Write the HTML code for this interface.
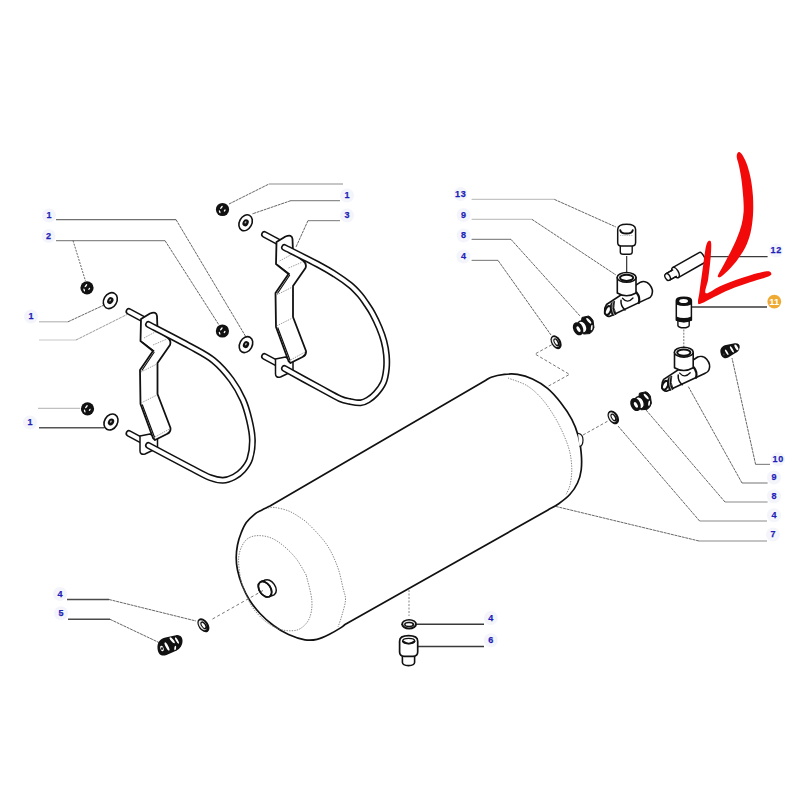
<!DOCTYPE html>
<html><head><meta charset="utf-8"><style>
html,body{margin:0;padding:0;background:#fff;}
svg{display:block;font-family:"Liberation Sans",sans-serif;}
</style></head><body>
<svg width="800" height="800" viewBox="0 0 800 800">
<rect width="800" height="800" fill="#fff"/>
<path d="M56.0,219.6 L176.0,219.6" fill="none" stroke="#707070" stroke-width="1.3"/>
<path d="M176.0,219.6 L246.0,337.0" fill="none" stroke="#4a4a4a" stroke-width="0.85" stroke-dasharray="3,0.7"/>
<path d="M56.0,240.6 L165.0,240.6" fill="none" stroke="#8a8a8a" stroke-width="1.2"/>
<path d="M165.0,240.6 L219.0,325.0" fill="none" stroke="#4a4a4a" stroke-width="0.85" stroke-dasharray="3,0.7"/>
<path d="M73,240.6 L85.5,281" fill="none" stroke="#555" stroke-width="0.9" stroke-dasharray="2,1.2"/>
<path d="M39.0,321.8 L68.0,321.8" fill="none" stroke="#b8b8b8" stroke-width="1.2"/>
<path d="M68.0,321.8 L103.0,305.5" fill="none" stroke="#4a4a4a" stroke-width="0.85" stroke-dasharray="3,0.7"/>
<path d="M39.0,340.0 L76.0,340.0" fill="none" stroke="#c8c8c8" stroke-width="1.2"/>
<path d="M76.0,340.0 L127.0,314.5" fill="none" stroke="#888" stroke-width="0.85" stroke-dasharray="3,0.7"/>
<path d="M38.0,408.4 L80.0,408.4" fill="none" stroke="#c0c0c0" stroke-width="1.2"/>
<path d="M39.0,427.8 L104.0,427.8" fill="none" stroke="#555" stroke-width="1.5"/>
<path d="M229.0,204.0 L269.0,184.0" fill="none" stroke="#4a4a4a" stroke-width="0.85" stroke-dasharray="3,0.7"/>
<path d="M269.0,184.0 L343.0,184.0" fill="none" stroke="#8e8e8e" stroke-width="1.2"/>
<path d="M340.0,200.6 L291.0,200.6" fill="none" stroke="#8e8e8e" stroke-width="1.2"/>
<path d="M291.0,200.6 L252.0,214.0" fill="none" stroke="#4a4a4a" stroke-width="0.85" stroke-dasharray="3,0.7"/>
<path d="M340.0,220.6 L308.0,220.6" fill="none" stroke="#8e8e8e" stroke-width="1.2"/>
<path d="M308.0,220.6 L296.0,247.0" fill="none" stroke="#4a4a4a" stroke-width="0.85" stroke-dasharray="3,0.7"/>
<path d="M471.6,199.4 L554.4,199.4" fill="none" stroke="#c4c4c4" stroke-width="1.2"/>
<path d="M554.4,199.4 L616.0,227.0" fill="none" stroke="#4a4a4a" stroke-width="0.85" stroke-dasharray="3,0.7"/>
<path d="M471.6,219.4 L532.0,219.4" fill="none" stroke="#c4c4c4" stroke-width="1.2"/>
<path d="M532.0,219.4 L616.0,275.0" fill="none" stroke="#4a4a4a" stroke-width="0.85" stroke-dasharray="3,0.7"/>
<path d="M471.6,239.4 L511.0,239.4" fill="none" stroke="#8a8a8a" stroke-width="1.2"/>
<path d="M511.0,239.4 L580.0,316.0" fill="none" stroke="#4a4a4a" stroke-width="0.85" stroke-dasharray="3,0.7"/>
<path d="M471.6,260.4 L498.0,260.4" fill="none" stroke="#8a8a8a" stroke-width="1.2"/>
<path d="M498.0,260.4 L551.0,335.0" fill="none" stroke="#4a4a4a" stroke-width="0.85" stroke-dasharray="3,0.7"/>
<path d="M702.0,256.6 L767.6,256.6" fill="none" stroke="#3a3a3a" stroke-width="1.4"/>
<path d="M691.5,307.0 L767.0,307.0" fill="none" stroke="#3a3a3a" stroke-width="1.4"/>
<path d="M770.0,464.4 L755.6,464.4" fill="none" stroke="#8a8a8a" stroke-width="1.2"/>
<path d="M755.6,464.4 L732.0,358.0" fill="none" stroke="#4a4a4a" stroke-width="0.85" stroke-dasharray="3,0.7"/>
<path d="M767.6,483.0 L742.0,483.0" fill="none" stroke="#8a8a8a" stroke-width="1.2"/>
<path d="M742.0,483.0 L688.0,386.0" fill="none" stroke="#4a4a4a" stroke-width="0.85" stroke-dasharray="3,0.7"/>
<path d="M767.6,502.0 L725.0,502.0" fill="none" stroke="#8a8a8a" stroke-width="1.2"/>
<path d="M725.0,502.0 L646.0,410.0" fill="none" stroke="#4a4a4a" stroke-width="0.85" stroke-dasharray="3,0.7"/>
<path d="M767.0,521.0 L699.6,521.0" fill="none" stroke="#8a8a8a" stroke-width="1.2"/>
<path d="M699.6,521.0 L618.0,426.0" fill="none" stroke="#4a4a4a" stroke-width="0.85" stroke-dasharray="3,0.7"/>
<path d="M767.0,541.0 L699.0,541.0" fill="none" stroke="#8a8a8a" stroke-width="1.2"/>
<path d="M699.0,541.0 L554.0,506.0" fill="none" stroke="#4a4a4a" stroke-width="0.85" stroke-dasharray="3,0.7"/>
<path d="M67.0,599.5 L109.0,599.5" fill="none" stroke="#4a4a4a" stroke-width="1.4"/>
<path d="M109.0,599.5 L196.0,621.0" fill="none" stroke="#4a4a4a" stroke-width="0.85" stroke-dasharray="3,0.7"/>
<path d="M68.0,619.3 L110.0,619.3" fill="none" stroke="#4a4a4a" stroke-width="1.4"/>
<path d="M110.0,619.3 L160.0,643.0" fill="none" stroke="#4a4a4a" stroke-width="0.85" stroke-dasharray="3,0.7"/>
<path d="M416.75,624.3 L484.0,624.3" fill="none" stroke="#3a3a3a" stroke-width="1.5"/>
<path d="M418.0,646.4 L484.0,646.4" fill="none" stroke="#3a3a3a" stroke-width="1.5"/>
<path d="M409,590 L409,616" fill="none" stroke="#777" stroke-width="0.9" stroke-dasharray="2,1.5"/>
<path d="M556,342.4 L535,354 L569.5,374.4 L548,386.3" fill="none" stroke="#666" stroke-width="0.9" stroke-dasharray="3,2"/>
<path d="M583,435 L608,421" fill="none" stroke="#666" stroke-width="0.9" stroke-dasharray="3,2"/>
<path d="M626.7,256.0 L626.7,272.5" fill="none" stroke="#222" stroke-width="1.1"/>
<path d="M683.8,329.5 V348" fill="none" stroke="#666" stroke-width="0.9" stroke-dasharray="2,1.2"/>
<path d="M270,506.1 L485,380.8 C487.1,379.6 488.0,378.3 491.2,377.2 C494.4,376.1 500.0,374.9 504.4,374.4 C508.8,373.9 512.8,373.6 517.5,374.4 C522.2,375.2 527.5,376.7 532.5,379.0 C537.5,381.3 542.8,384.5 547.5,388.4 C552.2,392.3 556.6,397.4 560.6,402.5 C564.6,407.6 568.8,413.7 571.8,419.3 C574.8,424.9 576.8,430.6 578.4,436.2 C580.0,441.8 580.7,447.4 581.2,453.0 C581.7,458.6 581.8,465.0 581.2,470.0 C580.6,475.0 579.4,478.9 577.5,483.0 C575.6,487.1 573.1,490.9 570.0,494.3 C566.9,497.8 562.4,501.1 558.7,503.7 C555.0,506.3 551.6,507.9 548.0,510.0 L345,624.5 C343.6,625.4 343.7,625.9 341.0,627.6 C338.3,629.3 333.0,632.5 329.0,634.5 C325.0,636.5 321.0,638.4 317.0,639.3 C313.0,640.2 309.8,640.5 305.0,639.8 C300.2,639.0 293.8,636.9 288.5,634.5 C283.2,632.1 278.2,629.0 273.5,625.5 C268.8,622.0 264.0,617.8 260.0,613.5 C256.0,609.2 252.5,604.8 249.5,600.0 C246.5,595.2 244.0,590.0 242.0,585.0 C240.0,580.0 238.5,574.6 237.5,570.0 C236.5,565.4 236.2,561.7 236.2,557.5 C236.2,553.3 236.7,549.2 237.5,545.0 C238.3,540.8 239.8,536.2 241.3,532.5 C242.8,528.8 244.1,525.5 246.3,522.5 C248.5,519.5 251.9,516.4 254.5,514.3 C257.1,512.2 259.4,511.4 262.0,510.0 C264.6,508.6 267.4,507.5 270.0,506.1 Z" fill="#fff" stroke="#111" stroke-width="1.7" stroke-linejoin="round"/>
<path d="M268.0,508.0 C269.2,507.9 271.6,507.0 275.0,507.5 C278.4,508.0 284.5,509.3 288.7,511.0 C292.9,512.7 296.4,515.1 300.0,517.5 C303.6,519.9 305.5,520.9 310.0,525.5 C314.5,530.1 322.4,538.1 327.0,545.0 C331.6,551.9 334.9,559.8 337.6,567.0 C340.3,574.2 341.7,582.5 343.0,588.0 C344.3,593.5 345.7,595.5 345.5,600.0 C345.3,604.5 343.2,610.5 342.0,615.0 C340.8,619.5 338.7,625.0 338.0,627.0" fill="none" stroke="#7a7a7a" stroke-width="0.9" stroke-dasharray="1.4,1.2"/>
<path d="M306.2,575.0 C304.5,572.3 299.9,563.5 296.2,558.7 C292.4,553.9 287.9,549.5 283.7,546.0 C279.5,542.5 275.4,539.7 271.2,538.0 C267.0,536.3 262.4,535.6 258.7,535.6 C254.9,535.6 251.4,536.4 248.7,538.0 C246.0,539.6 244.2,541.8 242.5,545.0 C240.8,548.2 239.1,552.5 238.7,557.5 C238.3,562.5 239.1,569.6 240.0,575.0 C240.9,580.4 241.9,584.6 244.0,590.0 C246.1,595.4 249.1,602.3 252.6,607.5 C256.1,612.7 260.8,617.5 265.0,621.0 C269.2,624.5 273.8,626.9 278.0,628.5 C282.2,630.1 286.2,630.8 290.0,630.8 C293.8,630.8 297.2,630.6 300.5,628.5 C303.8,626.4 307.6,622.8 309.5,618.0 C311.4,613.2 312.4,607.2 311.8,600.0 C311.2,592.8 307.1,579.2 306.2,575.0" fill="none" stroke="#7a7a7a" stroke-width="0.9" stroke-dasharray="1.4,1.2"/>
<path d="M508.0,378.0 C511.1,379.3 521.3,382.2 526.9,385.6 C532.5,389.1 537.1,393.4 541.8,398.7 C546.5,404.0 551.2,411.2 555.0,417.5 C558.8,423.8 561.8,430.3 564.3,436.2 C566.8,442.1 568.8,447.4 570.0,453.0 C571.2,458.6 571.8,464.7 571.8,470.0 C571.8,475.3 570.9,480.9 570.0,485.0 C569.1,489.1 566.8,492.8 566.2,494.3" fill="none" stroke="#7a7a7a" stroke-width="0.9" stroke-dasharray="1.4,1.2"/>
<ellipse cx="269.6" cy="587.5" rx="5.6" ry="8.6" transform="rotate(-34 269.6 587.5)" fill="#fff" stroke="#111" stroke-width="1.5"/>
<path d="M261,581.7 L265.6,580 L273.6,595 L269,596.7 Z" fill="#fff" stroke="none"/>
<path d="M261,581.7 L265.6,580 M273.6,595 L269,596.7" fill="none" stroke="#111" stroke-width="1.5"/>
<ellipse cx="265" cy="589.2" rx="5.6" ry="8.6" transform="rotate(-34 265 589.2)" fill="#fff" stroke="#111" stroke-width="1.6"/>
<path d="M578,433.4 Q583,434 583,440 Q583,446 579.5,446.5" fill="#fff" stroke="#111" stroke-width="1.2"/>
<path d="M212.5,619 L263,590.5" fill="none" stroke="#666" stroke-width="0.9" stroke-dasharray="3,2.5"/>
<ellipse cx="265" cy="589.2" rx="5.6" ry="8.6" transform="rotate(-34 265 589.2)" fill="none" stroke="#111" stroke-width="1.6"/>
<g transform="translate(135.5 -77)">
<path d="M129,311.5 L143,319" fill="none" stroke="#111" stroke-width="7" stroke-linecap="round" stroke-linejoin="round"/>
<path d="M129,311.5 L143,319" fill="none" stroke="#fff" stroke-width="3.8" stroke-linecap="round" stroke-linejoin="round"/>
<path d="M129,433.5 L143,441" fill="none" stroke="#111" stroke-width="7" stroke-linecap="round" stroke-linejoin="round"/>
<path d="M129,433.5 L143,441" fill="none" stroke="#fff" stroke-width="3.8" stroke-linecap="round" stroke-linejoin="round"/>
<path d="M140,436 L140,451 Q140,455 145,454 L157.5,448 L157.5,438 L150,434 Z" fill="#fff" stroke="#111" stroke-width="1.5" stroke-linejoin="round"/>
<path d="M141,319 L150,313.5 Q156.5,311 157,316 L157.5,330 L168,338 Q171.5,341 170,345 L157.5,363 L157.5,394 L170.5,428 Q171,432 167,434 L155,440 L153,438 L140.5,404 L140,370 L153,351 L140.5,341 Z" fill="#fff" stroke="#111" stroke-width="1.8" stroke-linejoin="round"/>
<path d="M142.3,342.3 L154.3,351.3 M141.9,370.5 L154.3,352 M142.2,404.5 L154.6,437.5" fill="none" stroke="#111" stroke-width="1.2"/>
<path d="M144,338 L157,331 M153,345 L167,339 M141,372 L157,364 M141,403 L157,395 M155,437 L169.5,429" fill="none" stroke="#888" stroke-width="0.8" stroke-dasharray="1.5,1"/>
</g>
<path d="M284.5,247.5 C290.4,250.5 311.6,261.1 320.0,265.6 C328.4,270.1 330.0,271.2 335.0,274.4 C340.0,277.6 345.8,281.6 350.0,285.0 C354.2,288.4 357.2,291.8 360.0,295.0 C362.8,298.2 364.4,300.9 366.5,304.0 C368.6,307.1 370.6,309.9 372.7,313.8 C374.8,317.7 377.3,322.9 379.2,327.5 C381.1,332.1 382.8,336.7 384.0,341.3 C385.2,345.9 386.0,350.4 386.4,355.0 C386.8,359.6 386.9,364.2 386.4,368.8 C385.9,373.4 385.2,378.5 383.4,382.6 C381.6,386.7 378.4,390.7 375.8,393.6 C373.2,396.5 370.5,398.5 368.0,400.0 C365.5,401.5 363.6,402.6 360.6,402.8 C357.6,403.1 353.4,402.2 350.0,401.5 C346.6,400.8 345.0,400.9 340.0,398.7 C335.0,396.4 329.2,393.0 320.0,388.0 C310.8,383.0 290.4,371.8 284.5,368.5" fill="none" stroke="#111" stroke-width="7" stroke-linecap="round" stroke-linejoin="round"/>
<path d="M284.5,247.5 C290.4,250.5 311.6,261.1 320.0,265.6 C328.4,270.1 330.0,271.2 335.0,274.4 C340.0,277.6 345.8,281.6 350.0,285.0 C354.2,288.4 357.2,291.8 360.0,295.0 C362.8,298.2 364.4,300.9 366.5,304.0 C368.6,307.1 370.6,309.9 372.7,313.8 C374.8,317.7 377.3,322.9 379.2,327.5 C381.1,332.1 382.8,336.7 384.0,341.3 C385.2,345.9 386.0,350.4 386.4,355.0 C386.8,359.6 386.9,364.2 386.4,368.8 C385.9,373.4 385.2,378.5 383.4,382.6 C381.6,386.7 378.4,390.7 375.8,393.6 C373.2,396.5 370.5,398.5 368.0,400.0 C365.5,401.5 363.6,402.6 360.6,402.8 C357.6,403.1 353.4,402.2 350.0,401.5 C346.6,400.8 345.0,400.9 340.0,398.7 C335.0,396.4 329.2,393.0 320.0,388.0 C310.8,383.0 290.4,371.8 284.5,368.5" fill="none" stroke="#fff" stroke-width="3.8" stroke-linecap="round" stroke-linejoin="round"/>
<g transform="translate(0 0)">
<path d="M129,311.5 L143,319" fill="none" stroke="#111" stroke-width="7" stroke-linecap="round" stroke-linejoin="round"/>
<path d="M129,311.5 L143,319" fill="none" stroke="#fff" stroke-width="3.8" stroke-linecap="round" stroke-linejoin="round"/>
<path d="M129,433.5 L143,441" fill="none" stroke="#111" stroke-width="7" stroke-linecap="round" stroke-linejoin="round"/>
<path d="M129,433.5 L143,441" fill="none" stroke="#fff" stroke-width="3.8" stroke-linecap="round" stroke-linejoin="round"/>
<path d="M140,436 L140,451 Q140,455 145,454 L157.5,448 L157.5,438 L150,434 Z" fill="#fff" stroke="#111" stroke-width="1.5" stroke-linejoin="round"/>
<path d="M141,319 L150,313.5 Q156.5,311 157,316 L157.5,330 L168,338 Q171.5,341 170,345 L157.5,363 L157.5,394 L170.5,428 Q171,432 167,434 L155,440 L153,438 L140.5,404 L140,370 L153,351 L140.5,341 Z" fill="#fff" stroke="#111" stroke-width="1.8" stroke-linejoin="round"/>
<path d="M142.3,342.3 L154.3,351.3 M141.9,370.5 L154.3,352 M142.2,404.5 L154.6,437.5" fill="none" stroke="#111" stroke-width="1.2"/>
<path d="M144,338 L157,331 M153,345 L167,339 M141,372 L157,364 M141,403 L157,395 M155,437 L169.5,429" fill="none" stroke="#888" stroke-width="0.8" stroke-dasharray="1.5,1"/>
<path d="M148.5,324.5 C155.4,328.1 179.2,340.3 190.0,346.3 C200.8,352.3 206.6,354.9 213.5,360.5 C220.4,366.1 226.6,373.4 231.5,380.0 C236.4,386.6 240.0,393.3 243.0,400.0 C246.0,406.7 247.7,413.3 249.3,420.0 C250.9,426.7 252.3,433.5 252.4,440.0 C252.5,446.5 251.4,454.0 249.8,459.0 C248.2,464.0 245.6,467.0 243.0,470.0 C240.4,473.0 237.3,475.3 234.0,477.0 C230.7,478.7 227.0,480.2 223.0,480.3 C219.0,480.4 215.5,479.7 210.0,477.6 C204.5,475.5 200.2,472.9 190.0,467.5 C179.8,462.1 155.4,449.2 148.5,445.5" fill="none" stroke="#111" stroke-width="7" stroke-linecap="round" stroke-linejoin="round"/>
<path d="M148.5,324.5 C155.4,328.1 179.2,340.3 190.0,346.3 C200.8,352.3 206.6,354.9 213.5,360.5 C220.4,366.1 226.6,373.4 231.5,380.0 C236.4,386.6 240.0,393.3 243.0,400.0 C246.0,406.7 247.7,413.3 249.3,420.0 C250.9,426.7 252.3,433.5 252.4,440.0 C252.5,446.5 251.4,454.0 249.8,459.0 C248.2,464.0 245.6,467.0 243.0,470.0 C240.4,473.0 237.3,475.3 234.0,477.0 C230.7,478.7 227.0,480.2 223.0,480.3 C219.0,480.4 215.5,479.7 210.0,477.6 C204.5,475.5 200.2,472.9 190.0,467.5 C179.8,462.1 155.4,449.2 148.5,445.5" fill="none" stroke="#fff" stroke-width="3.8" stroke-linecap="round" stroke-linejoin="round"/>
</g>
<circle cx="222.5" cy="209.5" r="6.6" fill="#111"/>
<ellipse cx="221.4" cy="207.4" rx="0.75" ry="1.9" fill="#fff" transform="rotate(40 221.4 207.4)"/>
<ellipse cx="219.7" cy="211.7" rx="0.7" ry="1.6" fill="#fff" transform="rotate(-20 219.7 211.7)"/>
<ellipse cx="224.7" cy="210.5" rx="0.7" ry="1.3" fill="#fff" transform="rotate(35 224.7 210.5)"/>
<g transform="translate(245.6 222.8) rotate(28)"><ellipse rx="6.2" ry="8.4" fill="#fff" stroke="#111" stroke-width="1.6"/><ellipse rx="2.94" ry="3.6399999999999997" fill="#111"/><ellipse cx="-0.3" cy="-0.3" rx="0.84" ry="1.26" fill="#aaa"/></g>
<circle cx="222.4" cy="331" r="6.6" fill="#111"/>
<ellipse cx="221.3" cy="328.9" rx="0.75" ry="1.9" fill="#fff" transform="rotate(40 221.3 328.9)"/>
<ellipse cx="219.6" cy="333.2" rx="0.7" ry="1.6" fill="#fff" transform="rotate(-20 219.6 333.2)"/>
<ellipse cx="224.6" cy="332" rx="0.7" ry="1.3" fill="#fff" transform="rotate(35 224.6 332)"/>
<g transform="translate(246 344.6) rotate(28)"><ellipse rx="6.2" ry="8.4" fill="#fff" stroke="#111" stroke-width="1.6"/><ellipse rx="2.94" ry="3.6399999999999997" fill="#111"/><ellipse cx="-0.3" cy="-0.3" rx="0.84" ry="1.26" fill="#aaa"/></g>
<circle cx="87" cy="287.8" r="6.6" fill="#111"/>
<ellipse cx="85.9" cy="285.7" rx="0.75" ry="1.9" fill="#fff" transform="rotate(40 85.9 285.7)"/>
<ellipse cx="84.2" cy="290.0" rx="0.7" ry="1.6" fill="#fff" transform="rotate(-20 84.2 290.0)"/>
<ellipse cx="89.2" cy="288.8" rx="0.7" ry="1.3" fill="#fff" transform="rotate(35 89.2 288.8)"/>
<g transform="translate(110.3 300.6) rotate(30)"><ellipse rx="6.5" ry="8.4" fill="#fff" stroke="#111" stroke-width="1.6"/><ellipse rx="2.94" ry="3.6399999999999997" fill="#111"/><ellipse cx="-0.3" cy="-0.3" rx="0.84" ry="1.26" fill="#aaa"/></g>
<circle cx="87.5" cy="408.8" r="6.6" fill="#111"/>
<ellipse cx="86.4" cy="406.7" rx="0.75" ry="1.9" fill="#fff" transform="rotate(40 86.4 406.7)"/>
<ellipse cx="84.7" cy="411.0" rx="0.7" ry="1.6" fill="#fff" transform="rotate(-20 84.7 411.0)"/>
<ellipse cx="89.7" cy="409.8" rx="0.7" ry="1.3" fill="#fff" transform="rotate(35 89.7 409.8)"/>
<g transform="translate(111 422) rotate(30)"><ellipse rx="6.5" ry="8.4" fill="#fff" stroke="#111" stroke-width="1.6"/><ellipse rx="2.94" ry="3.6399999999999997" fill="#111"/><ellipse cx="-0.3" cy="-0.3" rx="0.84" ry="1.26" fill="#aaa"/></g>
<g transform="translate(556.1 342.2) rotate(-30)"><ellipse rx="4.8" ry="7.5" fill="#111"/><ellipse cx="-0.38" cy="-0.45" rx="3.17" ry="5.40" fill="#e8e8e8"/><ellipse cx="0.24" cy="0.30" rx="2.40" ry="4.35" fill="#111"/><ellipse cx="0" cy="0" rx="1.15" ry="2.85" fill="#fff"/></g>
<g transform="translate(613.3 417.4) rotate(-32)"><ellipse rx="5" ry="7.5" fill="#111"/><ellipse cx="-0.40" cy="-0.45" rx="3.30" ry="5.40" fill="#e8e8e8"/><ellipse cx="0.25" cy="0.30" rx="2.50" ry="4.35" fill="#111"/><ellipse cx="0" cy="0" rx="1.20" ry="2.85" fill="#fff"/></g>
<g transform="translate(203.4 625.3) rotate(-35)"><ellipse rx="5" ry="7.8" fill="#111"/><ellipse cx="-0.40" cy="-0.47" rx="3.30" ry="5.62" fill="#e8e8e8"/><ellipse cx="0.25" cy="0.31" rx="2.50" ry="4.52" fill="#111"/><ellipse cx="0" cy="0" rx="1.20" ry="2.96" fill="#fff"/></g>
<ellipse cx="409.1" cy="624.3" rx="7.9" ry="5.2" fill="#111"/>
<ellipse cx="409.1" cy="624" rx="6" ry="3.4" fill="#e8e8e8"/>
<ellipse cx="409.1" cy="624.4" rx="5" ry="2.6" fill="#111"/>
<ellipse cx="409" cy="624.5" rx="3.4" ry="1.2" fill="#fff"/>
<path d="M620.3,244 L620.3,252 Q620.3,254.3 623,254.3 L629.5,254.3 Q632.2,254.3 632.2,252 L632.2,244 Z" fill="#fff" stroke="#111" stroke-width="1.4" stroke-linejoin="round" stroke-linecap="round" />
<path d="M617.7,229.5 Q617.9,224.3 626.6,224.3 Q635.4,224.3 635.6,229.5 L635.6,242.5 Q635.6,246 632,246 L621.2,246 Q617.7,246 617.7,242.5 Z" fill="#fff" stroke="#111" stroke-width="1.5" stroke-linejoin="round" stroke-linecap="round" />
<path d="M620.3,230.3 C621,234.6 632,234.6 632.7,230.3" fill="none" stroke="#111" stroke-width="2.0" stroke-linejoin="round" stroke-linecap="round" />
<path d="M620,235.5 L633,235.5" fill="none" stroke="#999" stroke-width="0.7" stroke-dasharray="1,0.8"/>
<g transform="translate(0 0)">
<path d="M606.5,304.5 L640.5,282.2 C643,281.2 647,281.5 649.5,284.5 C652,287.5 653,292 651.8,295 C651,297 649.5,298 648,298.4 L610,316.2 C607,317 605,314.5 604.7,312 C604.5,309 605,306.5 606.5,304.5 Z" fill="#fff" stroke="#111" stroke-width="1.6" stroke-linejoin="round" stroke-linecap="round" />
<ellipse cx="608" cy="310.5" rx="2.6" ry="4.6" transform="rotate(25 608 310.5)" fill="#fff" stroke="#111" stroke-width="2"/>
<path d="M611.3,302.9 Q608.6,309 612.6,315.6 L616.2,314.2 Q612.4,308 614.6,301.2 Z" fill="#111" stroke="#111" stroke-width="0.8" stroke-linejoin="round"/>
<path d="M612.9,302.3 Q610.7,308.6 614.3,315" fill="none" stroke="#ddd" stroke-width="0.7" stroke-linejoin="round" stroke-linecap="round" />
<path d="M621,300.3 Q620.5,306 625,310" fill="none" stroke="#111" stroke-width="1.5" stroke-linejoin="round" stroke-linecap="round" />
<path d="M636.5,292.5 Q640.5,297.5 638.8,303" fill="none" stroke="#111" stroke-width="2.2" stroke-linejoin="round" stroke-linecap="round" />
<path d="M617.3,277.4 L617.3,293 Q626.5,298.5 636,293 L636,277.4 Z" fill="#fff" stroke="#111" stroke-width="1.6" stroke-linejoin="round" stroke-linecap="round" />
<path d="M626.6,277.4 m-9.4,0 a9.4,4.9 0 1,0 18.8,0 a9.4,4.9 0 1,0 -18.8,0" fill="#fff" stroke="#111" stroke-width="1.6" stroke-linejoin="round" stroke-linecap="round" />
<path d="M626.6,277.8 m-6.6,0 a6.6,3.1 0 1,0 13.2,0 a6.6,3.1 0 1,0 -13.2,0" fill="#fff" stroke="#111" stroke-width="2.0" stroke-linejoin="round" stroke-linecap="round" />
<path d="M622.5,298.3 Q627.5,304 633,298" fill="none" stroke="#111" stroke-width="1.3" stroke-linejoin="round" stroke-linecap="round" />
</g>
<g transform="translate(57.2 74.8)">
<path d="M606.5,304.5 L640.5,282.2 C643,281.2 647,281.5 649.5,284.5 C652,287.5 653,292 651.8,295 C651,297 649.5,298 648,298.4 L610,316.2 C607,317 605,314.5 604.7,312 C604.5,309 605,306.5 606.5,304.5 Z" fill="#fff" stroke="#111" stroke-width="1.6" stroke-linejoin="round" stroke-linecap="round" />
<ellipse cx="608" cy="310.5" rx="2.6" ry="4.6" transform="rotate(25 608 310.5)" fill="#fff" stroke="#111" stroke-width="2"/>
<path d="M611.3,302.9 Q608.6,309 612.6,315.6 L616.2,314.2 Q612.4,308 614.6,301.2 Z" fill="#111" stroke="#111" stroke-width="0.8" stroke-linejoin="round"/>
<path d="M612.9,302.3 Q610.7,308.6 614.3,315" fill="none" stroke="#ddd" stroke-width="0.7" stroke-linejoin="round" stroke-linecap="round" />
<path d="M621,300.3 Q620.5,306 625,310" fill="none" stroke="#111" stroke-width="1.5" stroke-linejoin="round" stroke-linecap="round" />
<path d="M636.5,292.5 Q640.5,297.5 638.8,303" fill="none" stroke="#111" stroke-width="2.2" stroke-linejoin="round" stroke-linecap="round" />
<path d="M617.3,277.4 L617.3,293 Q626.5,298.5 636,293 L636,277.4 Z" fill="#fff" stroke="#111" stroke-width="1.6" stroke-linejoin="round" stroke-linecap="round" />
<path d="M626.6,277.4 m-9.4,0 a9.4,4.9 0 1,0 18.8,0 a9.4,4.9 0 1,0 -18.8,0" fill="#fff" stroke="#111" stroke-width="1.6" stroke-linejoin="round" stroke-linecap="round" />
<path d="M626.6,277.8 m-6.6,0 a6.6,3.1 0 1,0 13.2,0 a6.6,3.1 0 1,0 -13.2,0" fill="#fff" stroke="#111" stroke-width="2.0" stroke-linejoin="round" stroke-linecap="round" />
<path d="M622.5,298.3 Q627.5,304 633,298" fill="none" stroke="#111" stroke-width="1.3" stroke-linejoin="round" stroke-linecap="round" />
</g>
<path d="M677.9,320 L677.9,325.5 Q678.5,327.8 683.5,327.8 Q688.6,327.8 689.2,325.5 L689.2,320 Z" fill="#fff" stroke="#111" stroke-width="1.4" stroke-linejoin="round" stroke-linecap="round" />
<path d="M676.3,300.5 Q676.3,297.2 683.8,297.2 Q691.4,297.2 691.4,300.5 L691.4,320 Q683.8,323.5 676.3,320 Z" fill="#fff" stroke="#111" stroke-width="1.5" stroke-linejoin="round" stroke-linecap="round" />
<path d="M676.3,300.5 Q676.3,297.2 683.8,297.2 Q691.4,297.2 691.4,300.5 L691.4,304.5 Q683.8,307.5 676.3,304.5 Z" fill="#111"/>
<ellipse cx="683.6" cy="301" rx="4.4" ry="2" fill="#fff"/>
<path d="M676.3,316.5 Q683.8,319.5 691.4,316.5 L691.4,320.5 Q683.8,324 676.3,320.5 Z" fill="#111"/>
<g transform="translate(667.6 277) rotate(-29.5)">
<path d="M9,-5.7 L40,-5.7 Q41.8,-5.7 41.8,0 Q41.8,5.7 40,5.7 L9,5.7 Z" fill="#fff" stroke="#111" stroke-width="1.5" stroke-linejoin="round" stroke-linecap="round" />
<path d="M0,-3.7 L9,-3.7 L9,3.7 L0,3.7 Z" fill="#fff" stroke="#111" stroke-width="1.4" stroke-linejoin="round" stroke-linecap="round" />
<ellipse cx="9" cy="0" rx="3" ry="5.7" fill="#fff" stroke="#111" stroke-width="1.5"/>
<rect x="2" y="-3" width="7" height="6" fill="#fff"/>
<path d="M0,-3.7 L8.5,-3.7 M0,3.7 L8.5,3.7" stroke="#111" stroke-width="1.4"/>
<ellipse cx="0" cy="0" rx="2.4" ry="3.7" fill="#fff" stroke="#111" stroke-width="1.4"/>
</g>
<path d="M720.4,352 C720,347.8 722.8,345.6 726,344.9 L733.5,343.6 C737.3,342.6 740,344.3 739.7,347.3 C739.4,350.2 737.8,352.3 735,353.3 L728.2,357.6 C724.2,359.6 720.9,357 720.4,352 Z" fill="#111"/>
<ellipse cx="726.7" cy="352.3" rx="0.9" ry="3.1" transform="rotate(-32 726.7 352.3)" fill="#fff"/>
<ellipse cx="731.9" cy="349.4" rx="1" ry="3.6" transform="rotate(-30 731.9 349.4)" fill="#fff"/>
<ellipse cx="736.4" cy="347.3" rx="1.3" ry="3.2" transform="rotate(-30 736.4 347.3)" fill="#fff"/>
<circle cx="723.8" cy="354.6" r="1" fill="#444"/>
<g transform="translate(583.6 325.75)">
<path d="M-1.6,-8.3 L4.9,-9.7 Q7.5,-9 9.4,-5.3 L10.4,1.8 Q9.5,5.5 6.4,7.8 L-0.1,8.3 L-3.1,2.3 Z" fill="#111" stroke="#111" stroke-width="1" stroke-linejoin="round"/>
<ellipse cx="5.2" cy="-4.9" rx="1.2" ry="3.6" transform="rotate(-40 5.2 -4.9)" fill="#fff"/>
<ellipse cx="8.1" cy="1.8" rx="0.9" ry="2.8" transform="rotate(8 8.1 1.8)" fill="#fff"/>
<ellipse cx="-1.4" cy="1.2" rx="4.3" ry="6.2" transform="rotate(-25 -1.4 1.2)" fill="#fff" stroke="#111" stroke-width="1.3"/>
<ellipse cx="-5.5" cy="3" rx="4.9" ry="6.9" transform="rotate(-25 -5.5 3)" fill="#111"/>
<ellipse cx="-5.1" cy="3.4" rx="1.5" ry="3.1" transform="rotate(-30 -5.1 3.4)" fill="#fff"/>
</g>
<g transform="translate(641 401.5)">
<path d="M-1.6,-8.3 L4.9,-9.7 Q7.5,-9 9.4,-5.3 L10.4,1.8 Q9.5,5.5 6.4,7.8 L-0.1,8.3 L-3.1,2.3 Z" fill="#111" stroke="#111" stroke-width="1" stroke-linejoin="round"/>
<ellipse cx="5.2" cy="-4.9" rx="1.2" ry="3.6" transform="rotate(-40 5.2 -4.9)" fill="#fff"/>
<ellipse cx="8.1" cy="1.8" rx="0.9" ry="2.8" transform="rotate(8 8.1 1.8)" fill="#fff"/>
<ellipse cx="-1.4" cy="1.2" rx="4.3" ry="6.2" transform="rotate(-25 -1.4 1.2)" fill="#fff" stroke="#111" stroke-width="1.3"/>
<ellipse cx="-5.5" cy="3" rx="4.9" ry="6.9" transform="rotate(-25 -5.5 3)" fill="#111"/>
<ellipse cx="-5.1" cy="3.4" rx="1.5" ry="3.1" transform="rotate(-30 -5.1 3.4)" fill="#fff"/>
</g>
<path d="M157.5,648.5 C157,642 160.5,638.5 165.5,637.5 L176,635.2 C181,634.5 183.2,638.5 182.4,642.5 C181.8,646.5 179,649.8 175,651.3 L166.5,655 C160.5,657 158,653.5 157.5,648.5 Z" fill="#111"/>
<ellipse cx="167" cy="646.5" rx="1.3" ry="4.6" transform="rotate(-28 167 646.5)" fill="#fff"/>
<ellipse cx="172.2" cy="640.3" rx="1.2" ry="3.8" transform="rotate(-40 172.2 640.3)" fill="#fff"/>
<ellipse cx="177" cy="640.5" rx="1" ry="3.6" transform="rotate(-30 177 640.5)" fill="#fff"/>
<ellipse cx="175.2" cy="648" rx="0.9" ry="2.2" transform="rotate(10 175.2 648)" fill="#fff"/>
<ellipse cx="162" cy="648.5" rx="2.2" ry="3.5" transform="rotate(-20 162 648.5)" fill="#fff" stroke="#111" stroke-width="1.2"/>
<ellipse cx="162" cy="648.5" rx="0.9" ry="1.5" fill="#111"/>
<path d="M402.4,654 L402.4,662.5 Q402.6,665.4 408.5,665.6 Q414.4,665.4 414.6,662.5 L414.6,654 Z" fill="#fff" stroke="#111" stroke-width="1.6" stroke-linejoin="round" stroke-linecap="round" />
<path d="M399.6,641.2 Q399.6,635.7 408.6,635.7 Q417.7,635.7 417.7,641.2 L417.7,652 Q417.7,656.3 413,656.3 L404.2,656.3 Q399.6,656.3 399.6,652 Z" fill="#fff" stroke="#111" stroke-width="1.7" stroke-linejoin="round" stroke-linecap="round" />
<ellipse cx="408.7" cy="641" rx="6" ry="2.6" fill="#fff" stroke="#111" stroke-width="1.2"/>
<path d="M402.8,641.3 Q408.7,646 414.6,641.3" fill="none" stroke="#111" stroke-width="1.8" stroke-linejoin="round" stroke-linecap="round" />
<path d="M739.8,152.3 C740.7,152.8 741.7,153.7 743.0,156.0 C744.3,158.3 746.2,162.0 747.5,166.0 C748.8,170.0 750.1,174.8 751.0,180.0 C751.9,185.2 752.7,191.2 753.0,197.0 C753.3,202.8 753.4,209.0 753.0,215.0 C752.6,221.0 751.8,227.7 750.5,233.0 C749.2,238.3 747.6,242.7 745.5,247.0 C743.4,251.3 740.4,255.6 738.0,259.0 C735.6,262.4 733.4,264.9 731.0,267.5 C728.6,270.1 725.4,273.2 723.5,274.8 C721.6,276.4 720.8,277.1 719.8,277.3 C718.8,277.5 717.4,277.4 717.8,275.8 C718.2,274.2 720.0,271.6 722.2,267.5 C724.4,263.4 728.5,255.9 731.0,251.0 C733.5,246.1 735.2,242.3 737.0,238.0 C738.8,233.7 740.4,229.3 741.5,225.0 C742.6,220.7 743.3,216.5 743.6,212.0 C743.9,207.5 743.6,203.3 743.3,198.0 C742.9,192.7 742.2,185.3 741.5,180.0 C740.8,174.7 739.8,169.8 739.0,166.0 C738.2,162.2 737.1,159.6 736.8,157.5 C736.5,155.4 736.9,154.1 737.4,153.2 C737.9,152.3 738.9,151.8 739.8,152.3 Z" fill="#f20a0a"/>
<path d="M709.6,240.8 C710.2,241.0 711.0,240.6 711.2,243.5 C711.4,246.4 711.1,252.1 710.6,258.0 C710.1,263.9 709.0,273.1 708.2,279.0 C707.4,284.9 703.8,292.0 705.8,293.2 C707.8,294.4 714.3,288.6 720.0,286.2 C725.7,283.8 733.7,280.8 740.0,278.6 C746.3,276.4 753.4,274.2 758.0,273.0 C762.6,271.8 765.3,271.3 767.5,271.3 C769.7,271.3 770.8,272.0 771.0,272.8 C771.2,273.6 772.5,274.7 769.0,276.3 C765.5,277.9 756.5,280.1 750.0,282.3 C743.5,284.5 736.0,287.1 730.0,289.5 C724.0,291.9 718.9,294.6 714.0,297.0 C709.1,299.4 703.2,303.0 700.5,303.8 C697.8,304.6 698.2,304.0 698.0,302.0 C697.8,300.0 698.8,297.3 699.5,292.0 C700.2,286.7 701.5,277.0 702.5,270.0 C703.5,263.0 704.5,254.6 705.3,250.0 C706.1,245.4 706.6,244.0 707.3,242.5 C708.0,241.0 709.0,240.6 709.6,240.8 Z" fill="#f20a0a"/>
<circle cx="49" cy="215.5" r="7" fill="#f4f5fb"/>
<text x="49" y="218.4" text-anchor="middle" font-size="9" font-weight="bold" letter-spacing="0" fill="#1e1eb8" stroke="#1e1eb8" stroke-width="0.25">1</text>
<circle cx="48.6" cy="236" r="7" fill="#f4f5fb"/>
<text x="48.6" y="238.9" text-anchor="middle" font-size="9" font-weight="bold" letter-spacing="0" fill="#1e1eb8" stroke="#1e1eb8" stroke-width="0.25">2</text>
<circle cx="31" cy="316.5" r="7" fill="#f4f5fb"/>
<text x="31" y="319.4" text-anchor="middle" font-size="9" font-weight="bold" letter-spacing="0" fill="#1e1eb8" stroke="#1e1eb8" stroke-width="0.25">1</text>
<circle cx="30" cy="422.5" r="7" fill="#f4f5fb"/>
<text x="30" y="425.4" text-anchor="middle" font-size="9" font-weight="bold" letter-spacing="0" fill="#1e1eb8" stroke="#1e1eb8" stroke-width="0.25">1</text>
<circle cx="347" cy="195.5" r="7" fill="#f4f5fb"/>
<text x="347" y="198.4" text-anchor="middle" font-size="9" font-weight="bold" letter-spacing="0" fill="#1e1eb8" stroke="#1e1eb8" stroke-width="0.25">1</text>
<circle cx="347" cy="215.5" r="7" fill="#f4f5fb"/>
<text x="347" y="218.4" text-anchor="middle" font-size="9" font-weight="bold" letter-spacing="0" fill="#1e1eb8" stroke="#1e1eb8" stroke-width="0.25">3</text>
<circle cx="460.5" cy="194" r="7" fill="#f4f5fb"/>
<text x="460.8" y="196.9" text-anchor="middle" font-size="9" font-weight="bold" letter-spacing="0.7" fill="#1e1eb8" stroke="#1e1eb8" stroke-width="0.25">13</text>
<circle cx="463.6" cy="215" r="7" fill="#f4f5fb"/>
<text x="463.6" y="217.9" text-anchor="middle" font-size="9" font-weight="bold" letter-spacing="0" fill="#1e1eb8" stroke="#1e1eb8" stroke-width="0.25">9</text>
<circle cx="463.6" cy="235.5" r="7" fill="#f4f5fb"/>
<text x="463.6" y="238.4" text-anchor="middle" font-size="9" font-weight="bold" letter-spacing="0" fill="#1e1eb8" stroke="#1e1eb8" stroke-width="0.25">8</text>
<circle cx="463.4" cy="256.5" r="7" fill="#f4f5fb"/>
<text x="463.4" y="259.4" text-anchor="middle" font-size="9" font-weight="bold" letter-spacing="0" fill="#1e1eb8" stroke="#1e1eb8" stroke-width="0.25">4</text>
<circle cx="776" cy="250.5" r="7" fill="#f4f5fb"/>
<text x="776.3" y="253.4" text-anchor="middle" font-size="9" font-weight="bold" letter-spacing="0.7" fill="#1e1eb8" stroke="#1e1eb8" stroke-width="0.25">12</text>
<circle cx="774.3" cy="301.6" r="6.9" fill="#eeaa33"/>
<text x="774.3" y="305.0" text-anchor="middle" font-size="9.5" font-weight="bold" fill="#fff">11</text>
<circle cx="778" cy="459.3" r="7" fill="#f4f5fb"/>
<text x="778.3" y="462.2" text-anchor="middle" font-size="9" font-weight="bold" letter-spacing="0.7" fill="#1e1eb8" stroke="#1e1eb8" stroke-width="0.25">10</text>
<circle cx="774" cy="477.5" r="7" fill="#f4f5fb"/>
<text x="774" y="480.4" text-anchor="middle" font-size="9" font-weight="bold" letter-spacing="0" fill="#1e1eb8" stroke="#1e1eb8" stroke-width="0.25">9</text>
<circle cx="774" cy="496.3" r="7" fill="#f4f5fb"/>
<text x="774" y="499.2" text-anchor="middle" font-size="9" font-weight="bold" letter-spacing="0" fill="#1e1eb8" stroke="#1e1eb8" stroke-width="0.25">8</text>
<circle cx="774" cy="515.3" r="7" fill="#f4f5fb"/>
<text x="774" y="518.1999999999999" text-anchor="middle" font-size="9" font-weight="bold" letter-spacing="0" fill="#1e1eb8" stroke="#1e1eb8" stroke-width="0.25">4</text>
<circle cx="773" cy="534.5" r="7" fill="#f4f5fb"/>
<text x="773" y="537.4" text-anchor="middle" font-size="9" font-weight="bold" letter-spacing="0" fill="#1e1eb8" stroke="#1e1eb8" stroke-width="0.25">7</text>
<circle cx="60" cy="594" r="7" fill="#f4f5fb"/>
<text x="60" y="596.9" text-anchor="middle" font-size="9" font-weight="bold" letter-spacing="0" fill="#1e1eb8" stroke="#1e1eb8" stroke-width="0.25">4</text>
<circle cx="61" cy="613.3" r="7" fill="#f4f5fb"/>
<text x="61" y="616.1999999999999" text-anchor="middle" font-size="9" font-weight="bold" letter-spacing="0" fill="#1e1eb8" stroke="#1e1eb8" stroke-width="0.25">5</text>
<circle cx="490.8" cy="618" r="7" fill="#f4f5fb"/>
<text x="490.8" y="620.9" text-anchor="middle" font-size="9" font-weight="bold" letter-spacing="0" fill="#1e1eb8" stroke="#1e1eb8" stroke-width="0.25">4</text>
<circle cx="490.8" cy="640.3" r="7" fill="#f4f5fb"/>
<text x="490.8" y="643.1999999999999" text-anchor="middle" font-size="9" font-weight="bold" letter-spacing="0" fill="#1e1eb8" stroke="#1e1eb8" stroke-width="0.25">6</text>
</svg>
</body></html>
